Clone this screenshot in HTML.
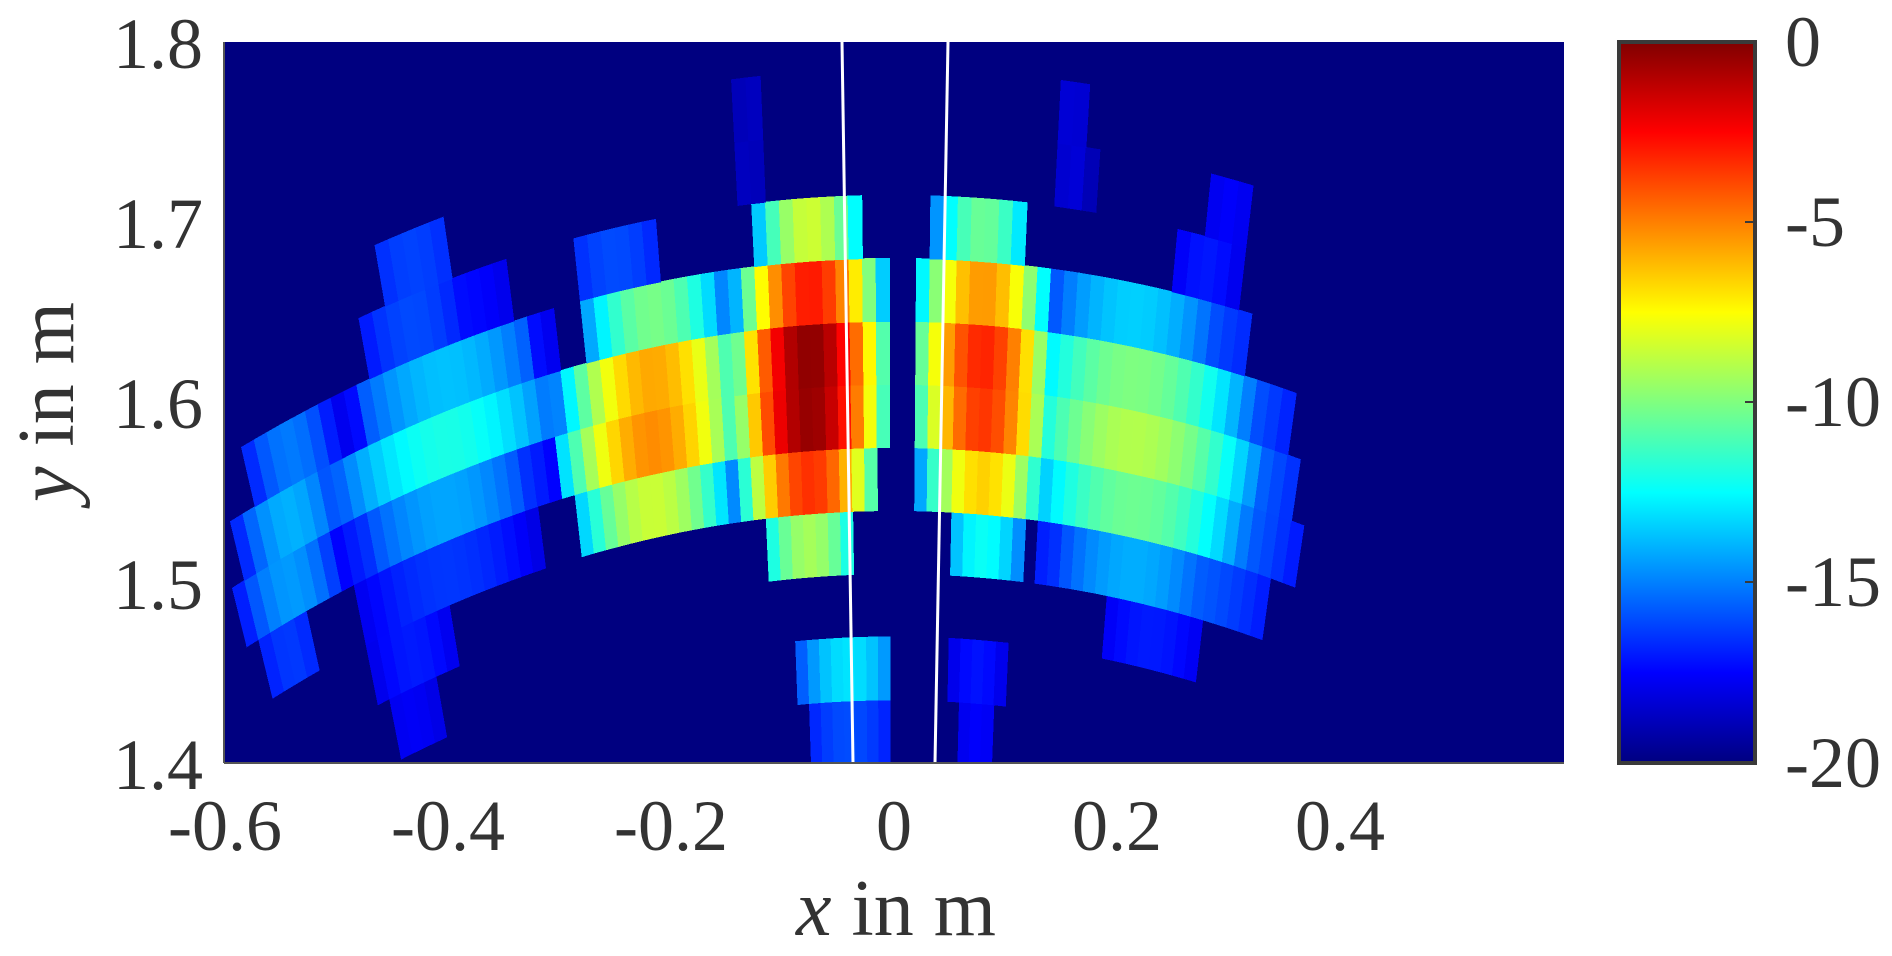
<!DOCTYPE html>
<html><head><meta charset="utf-8"><style>
html,body{margin:0;padding:0;background:#fff;}
svg{display:block;}
text{font-family:"Liberation Serif","Times New Roman",serif;fill:#333;}
</style></head><body>
<svg id="s" width="1892" height="956" viewBox="0 0 1892 956" xmlns="http://www.w3.org/2000/svg" font-family="Liberation Serif, serif">
<defs>
<linearGradient id="jet" x1="0" y1="1" x2="0" y2="0">
<stop offset="0" stop-color="#000080"/>
<stop offset="0.125" stop-color="#0000ff"/>
<stop offset="0.375" stop-color="#00ffff"/>
<stop offset="0.625" stop-color="#ffff00"/>
<stop offset="0.875" stop-color="#ff0000"/>
<stop offset="1" stop-color="#800000"/>
</linearGradient>
<clipPath id="pc"><rect x="224" y="42" width="1340" height="721"/></clipPath>
</defs>
<rect x="224" y="42" width="1340" height="721" fill="#000080"/>
<g id="cells" clip-path="url(#pc)" shape-rendering="crispEdges"></g>
<line x1="842" y1="42" x2="853" y2="763" stroke="#fff" stroke-width="3"/>
<line x1="948" y1="42" x2="935" y2="763" stroke="#fff" stroke-width="3"/>
<line x1="224" y1="42" x2="224" y2="763" stroke="#555" stroke-width="2"/>
<line x1="224" y1="763" x2="1564" y2="763" stroke="#555" stroke-width="2"/>
<g font-size="72" text-anchor="end">
<text x="203" y="68">1.8</text>
<text x="203" y="248">1.7</text>
<text x="203" y="428">1.6</text>
<text x="203" y="609">1.5</text>
<text x="203" y="789">1.4</text>
</g>
<g font-size="72" text-anchor="middle">
<text x="225" y="850">-0.6</text>
<text x="448" y="850">-0.4</text>
<text x="671" y="850">-0.2</text>
<text x="894" y="850">0</text>
<text x="1117" y="850">0.2</text>
<text x="1340" y="850">0.4</text>
</g>
<text x="896" y="935" font-size="80" text-anchor="middle"><tspan font-style="italic">x</tspan> in m</text>
<text transform="translate(73,402) rotate(-90)" font-size="80" text-anchor="middle"><tspan font-style="italic">y</tspan> in m</text>
<rect x="1619" y="42" width="136" height="721" fill="url(#jet)" stroke="#3a3a3a" stroke-width="4"/>
<g stroke="#3a3a3a" stroke-width="2">
<line x1="1745" y1="222" x2="1755" y2="222"/><line x1="1745" y1="402" x2="1755" y2="402"/><line x1="1745" y1="582" x2="1755" y2="582"/>
</g>
<g font-size="72">
<text x="1785" y="66">0</text>
<text x="1785" y="246">-5</text>
<text x="1785" y="426">-10</text>
<text x="1785" y="606">-15</text>
<text x="1785" y="787">-20</text>
</g>
</svg>
<script>
(function(){
function jet(v){var t=(v+20)/20;if(t<0)t=0;if(t>1)t=1;
 function c(a){a=1.5-Math.abs(a);return Math.max(0,Math.min(1,a));}
 var r=c(4*t-3),g=c(4*t-2),b=c(4*t-1);
 return 'rgb('+Math.round(r*255)+','+Math.round(g*255)+','+Math.round(b*255)+')';}
// blobs: x, r, ax, ar, peak, edge
var B=[
[-0.075,1.612,0.075,0.11,0,-14],
[-0.215,1.605,0.09,0.08,-5,-15],
[-0.40,1.63,0.10,0.05,-12,-16],
[-0.40,1.62,0.11,0.09,-15,-18],
[-0.43,1.71,0.04,0.05,-16,-17],
[-0.25,1.69,0.04,0.035,-16,-17],
[-0.54,1.62,0.045,0.07,-14,-17],
[0.08,1.615,0.07,0.105,-3,-15],
[0.215,1.595,0.12,0.085,-9,-16],
[0.23,1.59,0.135,0.10,-14,-17],
[0.28,1.69,0.03,0.03,-17,-18],
[-0.04,1.45,0.045,0.025,-13,-16],
[-0.04,1.415,0.035,0.03,-16,-17],
[0.075,1.44,0.025,0.03,-17,-18],
[0.23,1.49,0.045,0.03,-17,-18],
[-0.43,1.52,0.035,0.04,-17,-18],
[-0.13,1.75,0.012,0.03,-18.5,-19],
[0.16,1.75,0.02,0.035,-18,-19],
[0.30,1.72,0.02,0.03,-17.5,-18]
];
function val(x,r){
 if(x>-0.004&&x<0.02)return -20;
 var best=-20;
 for(var i=0;i<B.length;i++){var b=B[i];var dx=(x-b[0])/b[2],dr=(r-b[1])/b[3];var d=dx*dx+dr*dr;
  if(d<=1){var v=b[4]+(b[5]-b[4])*d;if(v>best)best=v;}}
 return best;}
function px(x){return 894+x*1116.7;}
function py(y){return 42+(1.8-y)*1802.5;}
var g=document.getElementById('cells'),out='';
var dr=0.035,dp=0.0072;
for(var r0=1.365;r0<1.82;r0+=dr){var r1=r0+dr,rc=r0+dr/2;
 for(var p0=-0.42;p0<0.3;p0+=dp){var p1=p0+dp,pc=p0+dp/2;
  var xc=rc*Math.sin(pc);var v=val(xc,rc);if(v<=-19.7)continue;
  var pts=[[r0,p0],[r0,p1],[r1,p1],[r1,p0]].map(function(q){return px(q[0]*Math.sin(q[1])).toFixed(1)+','+py(q[0]*Math.cos(q[1])).toFixed(1);}).join(' ');
  var col=jet(v);
  out+='<polygon points="'+pts+'" fill="'+col+'" stroke="'+col+'" stroke-width="0.8"/>';
 }}
g.innerHTML=out;
})();
</script>
</body></html>
